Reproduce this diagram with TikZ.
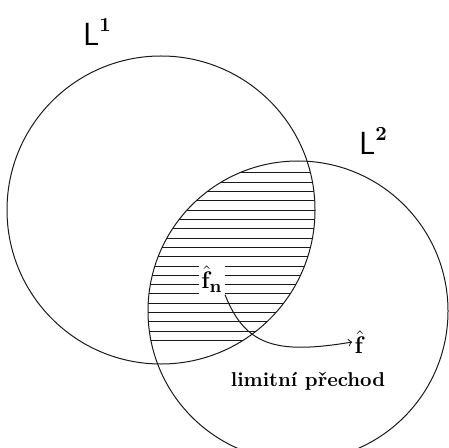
\documentclass[tikz,border=0pt]{standalone}
\usepackage{tikz}
\usetikzlibrary{calc,positioning}
\definecolor{inkblack}{HTML}{1A1A1A}

\begin{document}
\begin{tikzpicture}[x=0.5pt, y=-0.5pt, line width=0.5pt,
    space/.style={draw=inkblack},
    hatch/.style={draw=inkblack},
    spacename/.style={inner sep=0pt, font=\fontsize{16}{16}\sffamily},
    point/.style={inner sep=1pt, font=\fontsize{13}{13}\selectfont},
    note/.style={inner sep=0pt, font=\bfseries}]
  \useasboundingbox (0,0) rectangle (448,448);
  % hatched intersection
  \begin{scope}
    \clip (161,210) circle [radius=154];
    \clip (298,311) circle [radius=150];
    \foreach \k in {0,...,18}
      \draw[hatch] (140,173+9.3*\k) -- (330,173+9.3*\k);
  \end{scope}
  % the two spaces
  \draw[space] (161,210) circle [radius=154];
  \draw[space] (298,311) circle [radius=150];
  \node[spacename] (L1) at (97,32) {L\raisebox{7pt}{\fontsize{10}{10}\rmfamily\bfseries 1}};
  \node[spacename] (L2) at (373,141) {L\raisebox{7pt}{\fontsize{10}{10}\rmfamily\bfseries 2}};
  % limit
  \node[point, fill=white] (fn) at (212,279) {$\hat{\mathbf{f}}_{\mathbf{n}}$};
  \node[point] (f) at (360,342) {$\hat{\mathbf{f}}$};
  \draw[->, inkblack] (fn.south east) .. controls (245,345) and (275,355) .. (f.west);
  \node[note] (lim) at (308,381) {limitní přechod};
\end{tikzpicture}
\end{document}
